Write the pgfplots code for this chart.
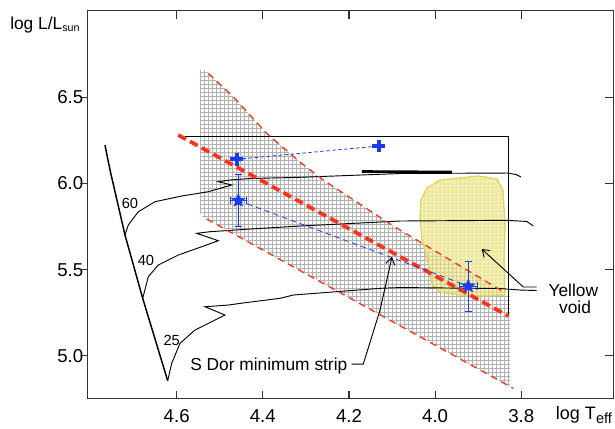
\documentclass[border=0pt]{standalone}
\usepackage{pgfplots}
\pgfplotsset{compat=1.18}
\usepackage{fontspec}
\setmainfont{Liberation Sans}
\usetikzlibrary{patterns,patterns.meta,arrows.meta}
\definecolor{myblue}{RGB}{25,60,240}
\definecolor{myred}{RGB}{255,50,30}
\definecolor{myyel}{RGB}{215,205,55}
\definecolor{myyelpale}{RGB}{240,236,160}
\pgfdeclarepatternformonly{finechecker}{\pgfpointorigin}{\pgfqpoint{2.6pt}{2.6pt}}{\pgfqpoint{2.6pt}{2.6pt}}{%
  \pgfpathrectangle{\pgfpointorigin}{\pgfqpoint{1.35pt}{1.35pt}}%
  \pgfpathrectangle{\pgfqpoint{1.3pt}{1.3pt}}{\pgfqpoint{1.35pt}{1.35pt}}%
  \pgfusepath{fill}}
\pgfdeclareplotmark{fstar}{%
  \pgfpathmoveto{\pgfpointpolar{90}{\pgfplotmarksize}}%
  \pgfpathlineto{\pgfpointpolar{126}{0.45\pgfplotmarksize}}%
  \pgfpathlineto{\pgfpointpolar{162}{\pgfplotmarksize}}%
  \pgfpathlineto{\pgfpointpolar{198}{0.45\pgfplotmarksize}}%
  \pgfpathlineto{\pgfpointpolar{234}{\pgfplotmarksize}}%
  \pgfpathlineto{\pgfpointpolar{270}{0.45\pgfplotmarksize}}%
  \pgfpathlineto{\pgfpointpolar{306}{\pgfplotmarksize}}%
  \pgfpathlineto{\pgfpointpolar{342}{0.45\pgfplotmarksize}}%
  \pgfpathlineto{\pgfpointpolar{18}{\pgfplotmarksize}}%
  \pgfpathlineto{\pgfpointpolar{54}{0.45\pgfplotmarksize}}%
  \pgfpathclose\pgfusepathqfillstroke}
\begin{document}
\begin{tikzpicture}
\begin{axis}[
  scale only axis, width=393.75pt, height=291pt,
  x dir=reverse, xmin=3.587, xmax=4.806, ymin=4.752, ymax=7.004,
  xtick={3.8,4.0,4.2,4.4,4.6}, ytick={5,5.5,6,6.5},
  /pgf/number format/assume math mode=true,
  /pgf/number format/fixed, /pgf/number format/fixed zerofill, /pgf/number format/precision=1,
  tick align=inside, major tick length=6pt,
  ytick pos=right, yticklabel pos=left,
  tick style={black!80, line width=0.8pt},
  ticklabel style={font=\fontsize{14}{16}\selectfont},
  xticklabel style={yshift=-5pt},
  axis line style={black!80, line width=0.8pt},
  clip=false,
]
% S Dor instability strip (grid)
\addplot[draw=none, pattern={Hatch[angle=0,distance=3pt,line width=0.35pt]}, pattern color=gray!60] coordinates {
 (4.546,6.659) (4.532,6.659) (4.5266,6.6396) (4.4686,6.5038) (4.3911,6.2913) (4.3138,6.1248)
 (4.2597,6.0203) (4.1009,5.7591) (3.8418,5.3720) (3.826,5.348) (3.826,4.8216)
 (4.5304,5.794) (4.542,5.81) (4.546,5.83)} -- cycle;
% Yellow void
\addplot[draw=myyel!85, line width=0.7pt, fill=myyelpale, fill opacity=0.6, draw opacity=1,
  postaction={pattern=finechecker, pattern color=myyel}] coordinates {
 (4.0189,5.9739) (3.9887,6.0203) (3.9423,6.0319) (3.9005,6.0435) (3.8564,6.0261) (3.8425,5.9623)
 (3.8378,5.7591) (3.8401,5.5560) (3.8378,5.3529) (3.8843,5.3471) (3.9423,5.3529) (3.9887,5.3703)
 (4.0073,5.4109) (4.0166,5.5444) (4.0305,5.6721) (4.0352,5.8056) (4.0329,5.9042)} -- cycle;
% ZAMS
\addplot[black, line width=1.1pt] coordinates {
 (4.7665,6.2234) (4.7548,6.0784) (4.7200,5.7011) (4.6789,5.3337) (4.6209,4.8555)};
% 60 Msun track
\addplot[black, line width=0.7pt] coordinates {
 (4.7200,5.7011) (4.7124,5.7591) (4.6891,5.8363) (4.6504,5.8944) (4.5884,5.9275) (4.5266,5.9524)
 (4.4723,5.9913) (4.5034,6.0104) (4.4763,6.0203) (4.4298,6.0290) (4.3138,6.0360) (4.0816,6.0580)
 (3.8332,6.0609) (3.8123,6.0522) (3.8007,6.0377)};
\addplot[black, line width=2pt] coordinates {(4.17,6.0696) (3.9609,6.0667)};
% 40 Msun track
\addplot[black, line width=0.7pt] coordinates {
 (4.6789,5.3337) (4.6659,5.4591) (4.6427,5.5270) (4.5963,5.5850) (4.5420,5.6332) (4.5034,5.6680)
 (4.5536,5.7110) (4.5227,5.7203) (4.4298,5.7359) (4.3138,5.7533) (4.0816,5.7824) (3.8332,5.7864)
 (3.7868,5.7795) (3.7721,5.7533)};
% 25 Msun track
\addplot[black, line width=0.7pt] coordinates {
 (4.6209,4.8555) (4.6116,4.9565) (4.5923,5.0725) (4.5575,5.1497) (4.5187,5.1979) (4.4879,5.2368)
 (4.5343,5.2850) (4.4802,5.2948) (4.4414,5.3082) (4.3602,5.3337) (4.3293,5.3529) (4.1280,5.3918)
 (4.0816,5.3964) (3.8494,5.3906) (3.8030,5.3819) (3.7642,5.379)};
% 120 Msun track (box)
\addplot[black, line width=0.7pt] coordinates {(4.5807,6.2716) (3.8302,6.2716) (3.8302,5.2310)};
% red dashed strip boundaries
\addplot[myred, line width=1pt, dash pattern=on 5pt off 3.7pt] coordinates {
 (4.5266,6.6396) (4.4686,6.5038) (4.3911,6.2913) (4.3138,6.1248) (4.2597,6.0203) (4.1009,5.7591) (3.8418,5.3720)};
\addplot[myred, line width=1pt, dash pattern=on 5pt off 3.7pt] coordinates {(4.5304,5.7940) (3.8186,4.8114)};
\addplot[myred, line width=2.8pt, dash pattern=on 6.5pt off 3.5pt] coordinates {(4.5963,6.2815) (3.8302,5.2310)};
% blue connecting lines
\addplot[myblue, line width=0.6pt, dash pattern=on 2.5pt off 2pt] coordinates {(4.4607,6.1405) (4.1315,6.2176)};
\addplot[myblue, line width=0.6pt, dash pattern=on 4pt off 3pt] coordinates {(4.457,5.901) (3.923,5.405)};
% plus markers
\addplot[myblue, only marks, mark=+, mark size=4.7pt, mark options={line width=3pt}] coordinates {(4.4607,6.1405) (4.1315,6.2176)};
% stars with error bars
\addplot[myblue, only marks, mark=fstar, mark size=5.3pt, mark options={fill=myblue, line width=0.3pt},
  error bars/.cd, x dir=both, x explicit, y dir=both, y explicit, error mark=-,
  error bar style={line width=0.7pt, myblue}, error mark options={rotate=90, line width=0.7pt, mark size=2.8pt, myblue}]
  coordinates {(4.457,5.901) +- (0.018,0.152) (3.923,5.405) +- (0.021,0.145)};
% left-side outward ticks
\pgfplotsinvokeforeach{5.0,5.5,6.0,6.5}{\draw[black!80, line width=0.8pt] (axis cs:4.806,#1) -- ++(-6pt,0pt);}
% arrows
\draw[black, line width=0.7pt, -{Straight Barb[length=5pt,width=7pt]}]
  (axis cs:4.1937,4.9524) -- (axis cs:4.1668,4.9524) -- (axis cs:4.1280,5.2658) -- (axis cs:4.1002,5.5734);
\draw[black, line width=0.7pt, -{Straight Barb[length=5pt,width=7pt]}]
  (axis cs:3.7642,5.3993) -- (axis cs:3.7953,5.3993) -- (axis cs:3.8919,5.6199);
% labels
\node[font=\fontsize{11}{13}\selectfont, inner sep=0pt] at (axis cs:4.7084,5.8822) {60};
\node[font=\fontsize{11}{13}\selectfont, inner sep=0pt] at (axis cs:4.6713,5.5560) {40};
\node[font=\fontsize{11}{13}\selectfont, inner sep=0pt] at (axis cs:4.6116,5.0888) {25};
\node[font=\fontsize{13}{15}\selectfont, inner sep=0pt, anchor=base west] at (axis cs:4.5691,4.9176) {S Dor minimum strip};
\node[font=\fontsize{13}{15}\selectfont, inner sep=0pt, anchor=base] at (axis cs:3.6793,5.3430) {Yellow};
\node[font=\fontsize{13}{15}\selectfont, inner sep=0pt, anchor=base] at (axis cs:3.6753,5.2484) {void};
\node[font=\fontsize{13}{15}\selectfont, inner sep=0pt, anchor=base west] at (axis cs:4.987,6.895)
  {log L/L\raisebox{-1.5pt}{\fontsize{8}{9}\selectfont sun}};
\node[font=\fontsize{13.5}{15}\selectfont, inner sep=0pt, anchor=base west] at (axis cs:3.7201,4.6333)
  {log T\raisebox{-3.5pt}{\fontsize{11}{12}\selectfont eff}};
\coordinate (bbA) at (axis cs:5.0102,7.0650);
\coordinate (bbB) at (axis cs:3.5825,4.578);
\end{axis}
\pgfresetboundingbox
\path[use as bounding box] (bbA) rectangle (bbB);
\end{tikzpicture}
\end{document}
